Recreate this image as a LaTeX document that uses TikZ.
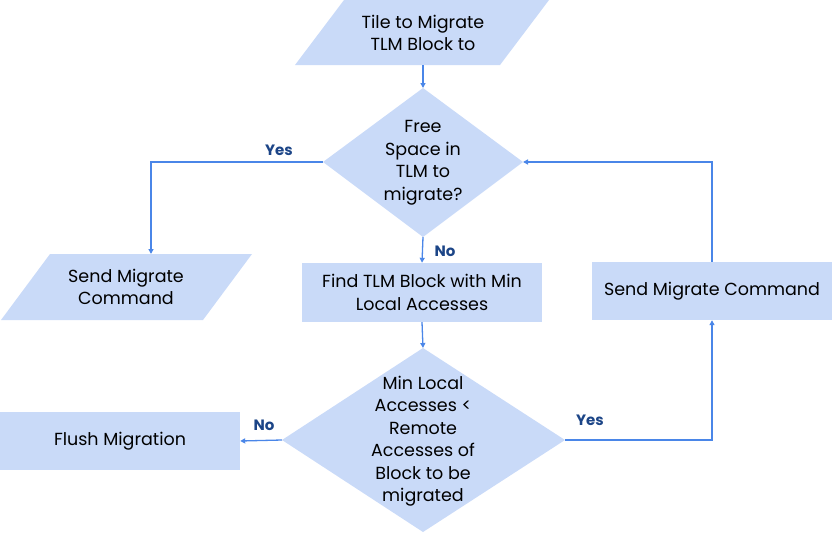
\documentclass[tikz,border=0pt]{standalone}
\usepackage{fontspec}
\setmainfont{Poppins}
\usetikzlibrary{arrows.meta}
\definecolor{boxfill}{HTML}{C9DAF8}
\definecolor{lineblue}{HTML}{4A86E8}
\definecolor{lblblue}{HTML}{1C4587}
\begin{document}
\begin{tikzpicture}[x=1pt,y=-1pt,
  txt/.style={align=center,font=\fontsize{17.5}{22.5}\selectfont,inner sep=0pt},
  boxnode/.style={fill=boxfill,draw=none,minimum width=240pt,align=center,font=\fontsize{17.5}{22.5}\selectfont,inner sep=0pt},
  conn/.style={draw=lineblue,line width=1.3pt,-{Triangle[length=5pt,width=5pt]}},
  lbl/.style={text=lblblue,font=\fontsize{15}{18}\selectfont\bfseries,inner sep=0pt}]
\useasboundingbox (0,0) rectangle (832,533);
% top parallelogram
\fill[boxfill] (344,0) -- (549,0) -- (500,65) -- (295,65) -- cycle;
\coordinate (p1b) at (423,65);
\node[txt] (p1) at (423,33) {Tile to Migrate\\TLM Block to};
% diamond 1
\fill[boxfill] (423,88) -- (523,162) -- (423,237) -- (323,162) -- cycle;
\coordinate (d1t) at (423,88);
\coordinate (d1r) at (523,162);
\coordinate (d1b) at (423,237);
\coordinate (d1l) at (323,162);
\node[txt] (d1) at (423,163) {Free\\Space in\\TLM to\\migrate?};
% left parallelogram
\fill[boxfill] (50,254) -- (252,254) -- (203,320) -- (1,320) -- cycle;
\coordinate (p2t) at (151,254);
\node[txt] (p2) at (126,287) {Send Migrate\\Command};
% find box
\node[boxnode,minimum height=59pt] (b1) at (422,292.5) {Find TLM Block with Min\\Local Accesses};
% send migrate box
\node[boxnode,minimum height=58pt] (b3) at (712,291) {Send Migrate Command};
% flush box
\node[boxnode,minimum height=58pt] (b2) at (120,441) {Flush Migration};
% diamond 2
\fill[boxfill] (423,348) -- (565,440) -- (423,532) -- (282,440) -- cycle;
\coordinate (d2t) at (423,348);
\coordinate (d2r) at (565,440);
\coordinate (d2l) at (282,440);
\node[txt] (d2) at (423,441) {Min Local\\Accesses <\\Remote\\Accesses of\\Block to be\\migrated};
% connectors
\draw[conn] (p1b) -- (d1t);
\draw[conn] (d1l) -| (p2t);
\draw[conn] (d1b) -- (b1.north);
\draw[conn] (b1.south) -- (d2t);
\draw[conn] (d2l) -- (b2.east);
\draw[conn] (d2r) -| (b3.south);
\draw[conn] (b3.north) |- (d1r);
% labels
\node[lbl] (l1) at (279,150) {Yes};
\node[lbl] (l2) at (445,251) {No};
\node[lbl] (l3) at (264,425) {No};
\node[lbl] (l4) at (590,420) {Yes};
\end{tikzpicture}
\end{document}
